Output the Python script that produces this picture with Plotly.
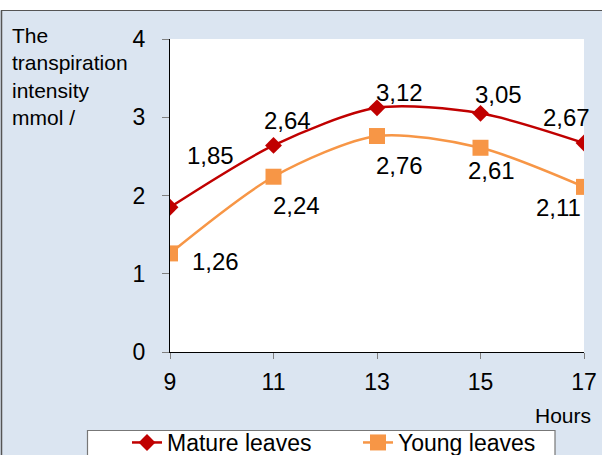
import plotly.graph_objects as go

# Measurement hours and transpiration intensity per leaf type
hours = [9, 11, 13, 15, 17]
mature = [1.85, 2.64, 3.12, 3.05, 2.67]
young = [1.26, 2.24, 2.76, 2.61, 2.11]
y_ticks = [0, 1, 2, 3, 4]

W, H = 602, 455
ML, MR, MT, MB = 170, 18, 39, 103
PW, PH = W - ML - MR, H - MT - MB

RED = "#c00000"
ORANGE = "#f79646"
BG = "#dbe5f1"
FONT = "Liberation Sans, Arial, sans-serif"


def px_x(p):
    return (p - ML) / PW


def px_y(p):
    return (H - MB - p) / PH


fig = go.Figure()
fig.add_trace(go.Scatter(
    x=hours, y=mature, name="Mature leaves", mode="lines+markers",
    line=dict(color=RED, width=2.5, shape="spline", smoothing=0.8),
    marker=dict(symbol="diamond", size=13, color=RED),
))
fig.add_trace(go.Scatter(
    x=hours, y=young, name="Young leaves", mode="lines+markers",
    line=dict(color=ORANGE, width=2.5, shape="spline", smoothing=0.8),
    marker=dict(symbol="square", size=16, color=ORANGE),
))

# value labels, offset in pixels from each point
mature_off = [(40, 52), (14, 25), (22, 15), (18, 19), (-18, 26)]
young_off = [(45, -8), (23, -29), (22, -29), (11, -23), (-26, -21)]
for xs, ys, offs in ((hours, mature, mature_off), (hours, young, young_off)):
    for xv, yv, (dx, dy) in zip(xs, ys, offs):
        fig.add_annotation(
            x=xv, y=yv, xref="x", yref="y", text=f"{yv:.2f}".replace(".", ","),
            showarrow=False, xshift=dx, yshift=dy,
            font=dict(size=24, color="#000000", family=FONT),
        )

fig.add_annotation(
    x=px_x(10), y=px_y(22), xref="paper", yref="paper", xanchor="left", yanchor="top",
    align="left", showarrow=False,
    text="The<br>transpiration<br>intensity<br>mmol /",
    font=dict(size=21, color="#000000", family=FONT),
)
fig.add_annotation(
    x=px_x(593), y=px_y(415), xref="paper", yref="paper", xanchor="right", yanchor="middle",
    showarrow=False, text="Hours",
    font=dict(size=21, color="#000000", family=FONT),
)

# white strip above the chart frame and the frame edges
fig.add_shape(type="rect", xref="paper", yref="paper",
              x0=px_x(-5), x1=px_x(W + 5), y0=px_y(10), y1=px_y(-5),
              fillcolor="white", line_width=0, layer="below")
fig.add_shape(type="line", xref="paper", yref="paper",
              x0=px_x(1), x1=px_x(W + 5), y0=px_y(10.5), y1=px_y(10.5),
              line=dict(color="#555555", width=1.2))
fig.add_shape(type="line", xref="paper", yref="paper",
              x0=px_x(1.5), x1=px_x(1.5), y0=px_y(10.5), y1=px_y(H + 5),
              line=dict(color="#555555", width=1.5))
# legend frame
fig.add_shape(type="rect", xref="paper", yref="paper",
              x0=px_x(87.5), x1=px_x(555), y0=px_y(470), y1=px_y(430.5),
              fillcolor="white", line=dict(color="#777777", width=1.2), layer="below")

fig.update_layout(
    width=W, height=H,
    margin=dict(l=ML, r=MR, t=MT, b=MB, autoexpand=False),
    paper_bgcolor=BG, plot_bgcolor="white",
    font=dict(family=FONT, color="#000000"),
    showlegend=True,
    legend=dict(
        orientation="h", x=px_x(127), y=px_y(421), xanchor="left", yanchor="top",
        bgcolor="rgba(0,0,0,0)", borderwidth=0,
        font=dict(size=23, family=FONT, color="#000000"),
        entrywidth=186, entrywidthmode="pixels",
    ),
    xaxis=dict(
        range=[9, 17], tickvals=hours, ticktext=[str(h) for h in hours],
        showgrid=False, zeroline=False, showline=True, linecolor="#000000", linewidth=1.2,
        ticks="outside", ticklen=6, tickcolor="#7f7f7f", tickwidth=1,
        ticklabelstandoff=3,
        tickfont=dict(size=23, family=FONT, color="#000000"),
    ),
    yaxis=dict(
        range=[0, 4], tickvals=y_ticks,
        showgrid=False, zeroline=False, showline=True, linecolor="#000000", linewidth=1.2,
        ticks="outside", ticklen=7, tickcolor="#7f7f7f", tickwidth=1,
        ticklabelstandoff=12,
        tickfont=dict(size=23, family=FONT, color="#000000"),
    ),
)

fig.write_html("out.html")
